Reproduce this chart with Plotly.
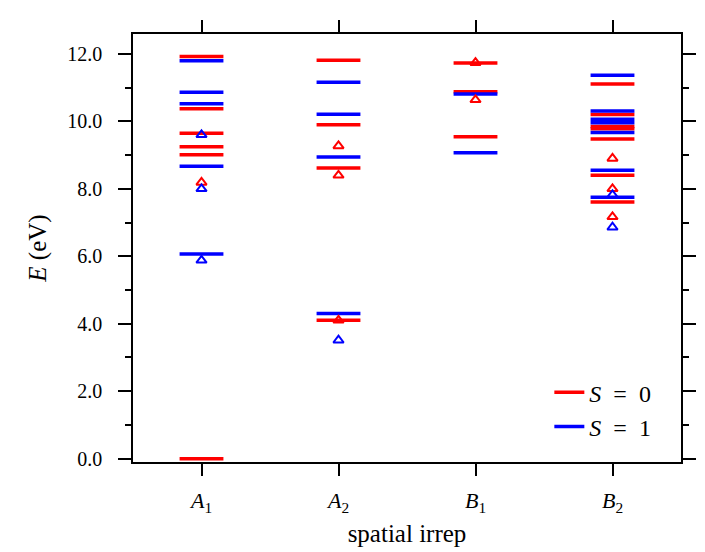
import plotly.graph_objects as go

# energy levels (eV) per spatial irrep, singlet (S=0) and triplet (S=1)
irreps = ["A1", "A2", "B1", "B2"]
irrep_labels = ["<i>A</i><sub>1</sub>", "<i>A</i><sub>2</sub>",
                "<i>B</i><sub>1</sub>", "<i>B</i><sub>2</sub>"]

singlet_levels = {
    "A1": [11.92, 10.37, 9.65, 9.25, 9.01, 0.0],
    "A2": [11.81, 9.90, 8.62, 4.10],
    "B1": [11.73, 10.88, 9.54],
    "B2": [11.11, 10.20, 9.85, 9.78, 9.48, 8.40, 7.61],
}
triplet_levels = {
    "A1": [11.80, 10.86, 10.52, 8.67, 6.07],
    "A2": [11.16, 10.21, 8.94, 4.30],
    "B1": [10.81, 9.07],
    "B2": [11.37, 10.31, 10.06, 9.96, 9.67, 8.55, 7.75],
}
# reference energies (triangles)
singlet_ref = {
    "A1": [8.19],
    "A2": [9.27, 8.40, 4.10],
    "B1": [11.74, 10.64],
    "B2": [8.90, 8.00, 7.17],
}
triplet_ref = {
    "A1": [9.60, 8.00, 5.88],
    "A2": [3.51],
    "B1": [],
    "B2": [7.82, 6.86],
}

RED = "#ff0000"
BLUE = "#0000ff"
half = 0.16
font = "Liberation Serif"


def level_segments(levels):
    xs, ys = [], []
    for i, name in enumerate(irreps):
        for e in levels[name]:
            xs += [i - half, i + half, None]
            ys += [e, e, None]
    return xs, ys


def ref_points(refs):
    xs, ys = [], []
    for i, name in enumerate(irreps):
        for e in refs[name]:
            xs.append(i)
            ys.append(e)
    return xs, ys


fig = go.Figure()

for levels, color, label in [(singlet_levels, RED, "<i>S</i>\u2002=\u20020"),
                             (triplet_levels, BLUE, "<i>S</i>\u2002=\u20021")]:
    x, y = level_segments(levels)
    fig.add_trace(go.Scatter(x=x, y=y, mode="lines", name=label,
                             line=dict(color=color, width=3.5)))

for refs, color in [(singlet_ref, RED), (triplet_ref, BLUE)]:
    x, y = ref_points(refs)
    fig.add_trace(go.Scatter(x=x, y=y, mode="markers", showlegend=False,
                             marker=dict(symbol="triangle-up-open", size=9,
                                         color=color, line=dict(width=2, color=color))))

# page body adds an 8px offset, margins compensate
fig.update_layout(
    width=705, height=552,
    margin=dict(l=125, r=32, t=15, b=98),
    plot_bgcolor="white", paper_bgcolor="white",
    font=dict(family=font, size=20, color="black"),
    legend=dict(x=0.955, y=0.03, xanchor="right", yanchor="bottom",
                bgcolor="rgba(0,0,0,0)", font=dict(size=24)),
)
fig.update_xaxes(
    range=[-0.5, 3.5], tickvals=list(range(len(irreps))), ticktext=irrep_labels,
    tickfont=dict(size=22), ticklabelstandoff=6,
    ticks="outside", ticklen=12, tickwidth=1.5, tickcolor="black",
    showline=True, linecolor="black", linewidth=1.5, mirror="ticks",
    showgrid=False, zeroline=False,
    title=dict(text="spatial irrep", font=dict(size=25), standoff=10),
)
fig.update_yaxes(
    range=[-0.1, 12.59], tickvals=[0, 2, 4, 6, 8, 10, 12],
    ticktext=["0.0", "2.0", "4.0", "6.0", "8.0", "10.0", "12.0"],
    ticklabelstandoff=12,
    ticks="outside", ticklen=13, tickwidth=1.5, tickcolor="black",
    minor=dict(tickvals=[1, 3, 5, 7, 9, 11], ticks="outside", ticklen=6,
               tickwidth=1.5, tickcolor="black"),
    showline=True, linecolor="black", linewidth=1.5, mirror="ticks",
    showgrid=False, zeroline=False,
    title=dict(text="<i>E</i> (eV)", font=dict(size=25), standoff=14),
)

fig.write_html("out.html")
